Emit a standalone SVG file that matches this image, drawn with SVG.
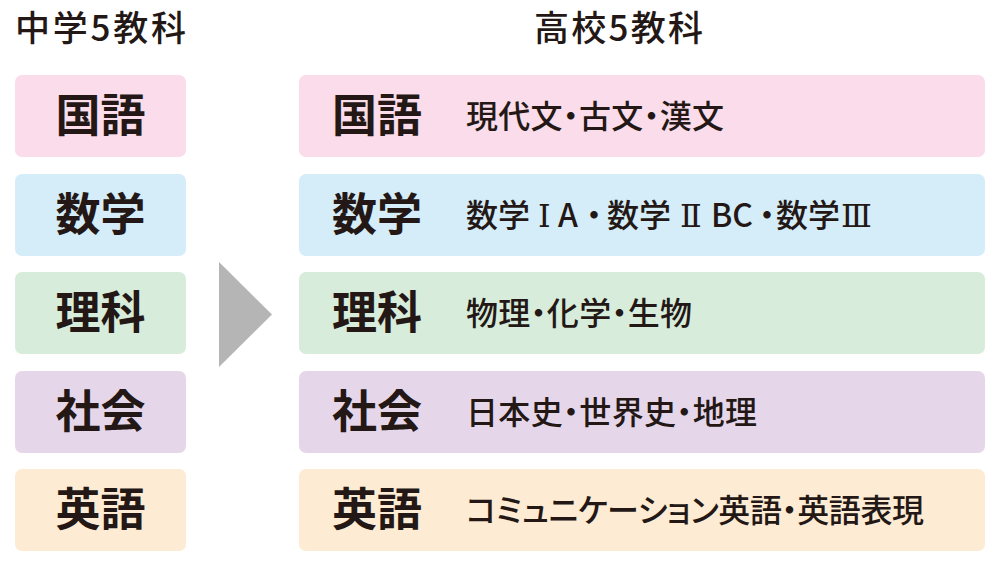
<svg xmlns="http://www.w3.org/2000/svg" width="1000" height="565" viewBox="0 0 1000 565">
<style>
text{font-family:"Noto Sans CJK JP","Noto Sans",sans-serif;fill:#231815;font-feature-settings:"palt"}
.title{font-size:35px;font-weight:500}
.big{font-size:45px;font-weight:700;text-anchor:middle}
.small{font-size:32px;font-weight:500}
.roman{font-family:"DejaVu Serif","Liberation Serif","Noto Sans CJK JP",serif;font-weight:400}
.pink{fill:#fadcea}.blue{fill:#d5ecf9}.green{fill:#d7ecda}.purple{fill:#e6d6ea}.orange{fill:#fdebd3}
</style>
<rect width="1000" height="565" fill="#fff"/>
<g id="titles">
<text class="title" x="15" y="41" textLength="171" lengthAdjust="spacing">中学5教科</text>
<text class="title" x="534" y="41" textLength="169" lengthAdjust="spacing">高校5教科</text>
</g>
<g id="connectors">
<polygon points="219,262 272,314.5 219,367" fill="#b5b5b6"/>
</g>
<g id="jh-kokugo"><rect class="pink" x="15" y="75" width="171" height="82" rx="7"/><text class="big" x="100.5" y="131.5">国語</text></g>
<g id="jh-sugaku"><rect class="blue" x="15" y="174" width="171" height="82" rx="7"/><text class="big" x="100.5" y="230.5">数学</text></g>
<g id="jh-rika"><rect class="green" x="15" y="272" width="171" height="82" rx="7"/><text class="big" x="100.5" y="328.5">理科</text></g>
<g id="jh-shakai"><rect class="purple" x="15" y="371" width="171" height="82" rx="7"/><text class="big" x="100.5" y="427.5">社会</text></g>
<g id="jh-eigo"><rect class="orange" x="15" y="469" width="171" height="82" rx="7"/><text class="big" x="100.5" y="525.5">英語</text></g>
<g id="hs-kokugo"><rect class="pink" x="299" y="75" width="686" height="82" rx="7"/><text class="big" x="377" y="131.5">国語</text><text class="small" x="466" y="127.5" textLength="258" lengthAdjust="spacing">現代文・古文・漢文</text></g>
<g id="hs-sugaku"><rect class="blue" x="299" y="174" width="686" height="82" rx="7"/><text class="big" x="377" y="230.5">数学</text><text class="small" y="226.5"><tspan x="466">数学</tspan><tspan class="roman" x="538">Ⅰ</tspan><tspan x="558">A</tspan><tspan x="586">・</tspan><tspan x="607">数学</tspan><tspan class="roman" x="680">Ⅱ</tspan><tspan x="711">BC</tspan><tspan x="759">・</tspan><tspan x="776">数学</tspan><tspan class="roman" x="841">Ⅲ</tspan></text></g>
<g id="hs-rika"><rect class="green" x="299" y="272" width="686" height="82" rx="7"/><text class="big" x="377" y="328.5">理科</text><text class="small" x="466" y="324.5" textLength="226" lengthAdjust="spacing">物理・化学・生物</text></g>
<g id="hs-shakai"><rect class="purple" x="299" y="371" width="686" height="82" rx="7"/><text class="big" x="377" y="427.5">社会</text><text class="small" x="466" y="423.5" textLength="291" lengthAdjust="spacing">日本史・世界史・地理</text></g>
<g id="hs-eigo"><rect class="orange" x="299" y="469" width="686" height="82" rx="7"/><text class="big" x="377" y="525.5">英語</text><text class="small" x="466" y="521.5" textLength="458" lengthAdjust="spacing">コミュニケーション英語・英語表現</text></g>
</svg>
